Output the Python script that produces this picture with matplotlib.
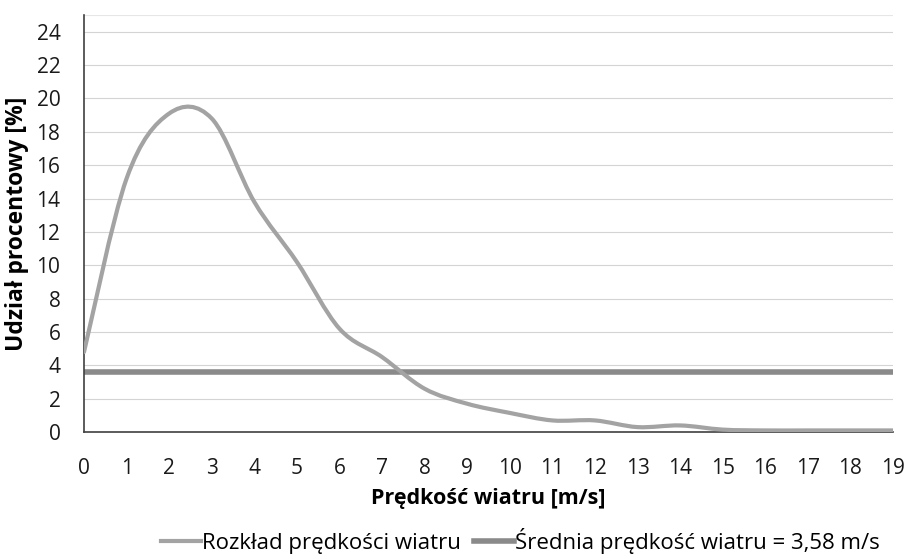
import matplotlib
matplotlib.use("Agg")
import matplotlib.pyplot as plt
import numpy as np
from matplotlib.path import Path
from matplotlib.patches import PathPatch
from matplotlib.lines import Line2D

plt.rcParams["font.family"] = ["Open Sans", "DejaVu Sans"]

speeds = list(range(0, 20))
shares = [4.8, 15.2, 19.1, 18.8, 13.8, 10.2, 6.2, 4.5, 2.6, 1.7,
          1.15, 0.7, 0.7, 0.3, 0.4, 0.15, 0.1, 0.1, 0.1, 0.1]
mean_speed = 3.58
y_ticks = list(range(0, 25, 2))

curve_color = "#a3a3a3"
mean_color = "#8a8a8a"


def smooth_path(xs, ys, tension=1 / 6):
    # Bezier segments through the data points (like a spreadsheet "smoothed line")
    xs = np.asarray(xs, float)
    ys = np.asarray(ys, float)
    verts = [(xs[0], ys[0])]
    codes = [Path.MOVETO]
    n = len(xs)
    for i in range(n - 1):
        p0 = (xs[max(i - 1, 0)], ys[max(i - 1, 0)])
        p1 = (xs[i], ys[i])
        p2 = (xs[i + 1], ys[i + 1])
        p3 = (xs[min(i + 2, n - 1)], ys[min(i + 2, n - 1)])
        c1 = (p1[0] + (p2[0] - p0[0]) * tension, p1[1] + (p2[1] - p0[1]) * tension)
        c2 = (p2[0] - (p3[0] - p1[0]) * tension, p2[1] - (p3[1] - p1[1]) * tension)
        verts += [c1, c2, p2]
        codes += [Path.CURVE4] * 3
    return Path(verts, codes)


fig = plt.figure(figsize=(9.08, 5.59), dpi=100)
ax = fig.add_axes([0.0925, 0.227, 0.891, 0.746])

ax.axhline(mean_speed, color=mean_color, linewidth=4, zorder=2)
ax.add_patch(PathPatch(smooth_path(speeds, shares), facecolor="none",
                       edgecolor=curve_color, linewidth=3, zorder=3,
                       capstyle="round", joinstyle="round"))

ax.set_xlim(0, 19)
ax.set_ylim(0, 25)
ax.set_xticks(speeds)
ax.set_yticks(y_ticks)
ax.tick_params(axis="both", length=0, labelsize=15, colors="#1a1a1a")
ax.tick_params(axis="y", pad=17)
ax.tick_params(axis="x", pad=19)
ax.grid(axis="y", color="#d4d4d4", linewidth=0.8)
ax.axhline(25, color="#e6e6e6", linewidth=0.8)
ax.set_axisbelow(True)
for side in ("top", "right"):
    ax.spines[side].set_visible(False)
ax.spines["left"].set_color("#404040")
ax.spines["bottom"].set_color("#404040")
ax.spines["left"].set_linewidth(1.2)
ax.spines["bottom"].set_linewidth(1.2)

ax.set_xlabel("Prędkość wiatru [m/s]", fontsize=15.5, fontweight="bold", labelpad=6)
ax.set_ylabel("Udział procentowy [%]", fontsize=16.5, fontweight="bold")
ax.yaxis.set_label_coords(-0.068, 0.5)

handles = [
    Line2D([], [], color=curve_color, linewidth=3),
    Line2D([], [], color=mean_color, linewidth=4),
]
fig.legend(handles, ["Rozkład prędkości wiatru", "Średnia prędkość wiatru = 3,58 m/s"],
           loc="center", bbox_to_anchor=(0.573, 0.033), ncol=2, frameon=False,
           fontsize=16, handlelength=1.8, handletextpad=0.05, columnspacing=0.6)

fig.savefig("out.png", dpi=100, facecolor="white")
